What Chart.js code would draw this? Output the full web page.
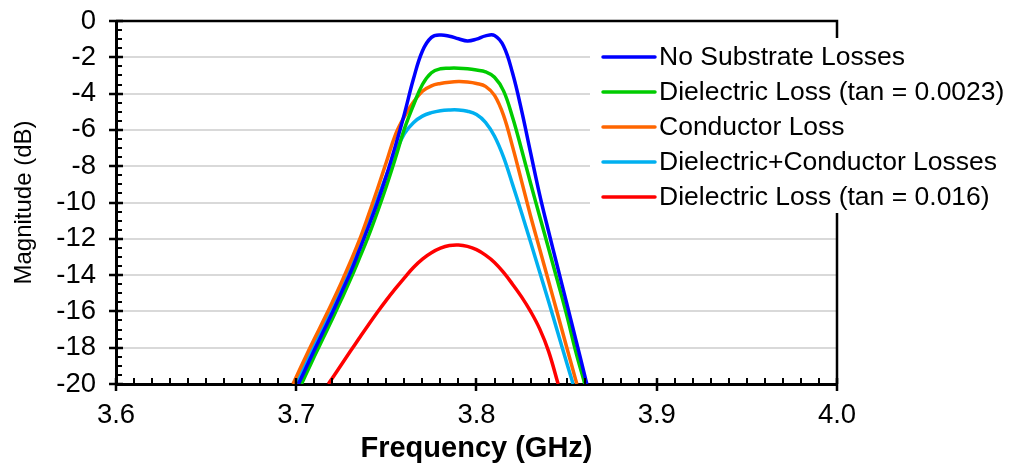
<!DOCTYPE html>
<html>
<head>
<meta charset="utf-8">
<script src="https://cdn.jsdelivr.net/npm/chart.js@4/dist/chart.umd.min.js"></script>
<style>
  html, body { margin: 0; padding: 0; background: #fff; }
  #wrap { width: 1013px; height: 463px; position: relative; }
</style>
</head>
<body>
<div id="wrap"><canvas id="lossChart" width="1013" height="463"></canvas></div>
<script>
// Filter response vs frequency
const seriesLabels = [
    'No Substrate Losses',
    'Dielectric Loss (tan = 0.0023)',
    'Conductor Loss',
    'Dielectric+Conductor Losses',
    'Dielectric Loss (tan = 0.016)'
];
const seriesColors = ['#0000ff', '#00cc00', '#ff6600', '#00b0f0', '#ff0000'];

const freqNoLoss = [3.7012, 3.705, 3.710, 3.715, 3.720, 3.725, 3.730, 3.735, 3.740, 3.745, 3.750, 3.755, 3.760, 3.765, 3.770, 3.775, 3.780, 3.785, 3.790, 3.795, 3.800, 3.805, 3.810, 3.815, 3.820, 3.825, 3.830, 3.835, 3.840, 3.845, 3.850, 3.855, 3.860, 3.8612];
const magNoLoss  = [-20, -19.2, -18.14, -17.11, -16.08, -14.98, -13.88, -12.63, -11.35, -10.01, -8.52, -6.88, -5.12, -3.2, -1.65, -0.9, -0.77, -0.84, -0.98, -1.1, -1.0, -0.82, -0.8, -1.38, -2.87, -4.92, -7.25, -9.55, -11.6, -13.57, -15.53, -17.51, -19.51, -20];

const freqDiel1 = [3.7029, 3.705, 3.710, 3.715, 3.720, 3.725, 3.730, 3.735, 3.740, 3.745, 3.750, 3.755, 3.760, 3.765, 3.770, 3.775, 3.780, 3.785, 3.790, 3.795, 3.800, 3.805, 3.810, 3.815, 3.820, 3.825, 3.830, 3.835, 3.840, 3.845, 3.850, 3.855, 3.8601];
const magDiel1  = [-20, -19.55, -18.49, -17.45, -16.42, -15.35, -14.25, -13.08, -11.87, -10.53, -9.1, -7.56, -5.94, -4.64, -3.5, -2.85, -2.63, -2.6, -2.6, -2.63, -2.7, -2.8, -3.1, -3.85, -5.3, -7.08, -8.94, -10.74, -12.54, -14.34, -16.18, -18.18, -20];

const freqCond = [3.6982, 3.700, 3.705, 3.710, 3.715, 3.720, 3.725, 3.730, 3.735, 3.740, 3.745, 3.750, 3.755, 3.760, 3.765, 3.770, 3.775, 3.780, 3.785, 3.790, 3.795, 3.800, 3.805, 3.810, 3.815, 3.820, 3.825, 3.830, 3.835, 3.840, 3.845, 3.850, 3.855, 3.8557];
const magCond  = [-20, -19.61, -18.55, -17.52, -16.52, -15.49, -14.42, -13.28, -12.08, -10.71, -9.27, -7.77, -6.27, -5.27, -4.47, -3.87, -3.57, -3.44, -3.37, -3.34, -3.36, -3.44, -3.6, -4.1, -5.2, -6.92, -8.82, -10.74, -12.54, -14.34, -16.14, -17.96, -19.76, -20];

const freqBoth = [3.6998, 3.705, 3.710, 3.715, 3.720, 3.725, 3.730, 3.735, 3.740, 3.745, 3.750, 3.755, 3.760, 3.765, 3.770, 3.775, 3.780, 3.785, 3.790, 3.795, 3.800, 3.805, 3.810, 3.815, 3.820, 3.825, 3.830, 3.835, 3.840, 3.845, 3.850, 3.8536];
const magBoth  = [-20, -18.9, -17.85, -16.82, -15.78, -14.68, -13.55, -12.35, -11.09, -9.8, -8.51, -7.28, -6.2, -5.6, -5.24, -5.05, -4.94, -4.9, -4.9, -4.97, -5.15, -5.58, -6.35, -7.5, -9.0, -10.57, -12.18, -13.82, -15.45, -17.13, -18.82, -20];

const freqDiel2 = [3.7178, 3.720, 3.725, 3.730, 3.735, 3.740, 3.745, 3.750, 3.755, 3.760, 3.765, 3.770, 3.775, 3.780, 3.785, 3.790, 3.795, 3.800, 3.805, 3.810, 3.815, 3.820, 3.825, 3.830, 3.835, 3.840, 3.8453];
const magDiel2  = [-20, -19.68, -18.94, -18.2, -17.47, -16.75, -16.05, -15.38, -14.75, -14.15, -13.58, -13.12, -12.77, -12.52, -12.37, -12.34, -12.42, -12.6, -12.9, -13.3, -13.85, -14.5, -15.2, -16.0, -16.95, -18.2, -20];

const xTicks = [3.6, 3.7, 3.8, 3.9, 4.0];
const yTicks = [0, -2, -4, -6, -8, -10, -12, -14, -16, -18, -20];

const FONT = '"Liberation Sans", Arial, sans-serif';

function pairs(xs, ys) {
    return xs.map((x, i) => ({ x: x, y: ys[i] }));
}

const seriesData = [
    pairs(freqNoLoss, magNoLoss),
    pairs(freqDiel1, magDiel1),
    pairs(freqCond, magCond),
    pairs(freqBoth, magBoth),
    pairs(freqDiel2, magDiel2)
];

// frame, inner minor ticks, crossing major ticks
const axisDecor = {
    id: 'axisDecor',
    afterDatasetsDraw(chart) {
        const ctx = chart.ctx;
        const a = chart.chartArea;
        const xs = chart.scales.x;
        const ys = chart.scales.y;
        ctx.save();
        ctx.strokeStyle = '#000';
        ctx.lineWidth = 2;
        ctx.beginPath();
        for (let i = 1; i < 40; i++) {
            if (i % 10 === 0) continue;
            const px = Math.round(xs.getPixelForValue(3.6 + i * 0.01));
            ctx.moveTo(px, a.bottom);
            ctx.lineTo(px, a.bottom - 6);
        }
        for (let i = 1; i < 40; i++) {
            if (i % 4 === 0) continue;
            const py = Math.round(ys.getPixelForValue(-i * 0.5));
            ctx.moveTo(a.left, py);
            ctx.lineTo(a.left + 6, py);
        }
        ctx.stroke();
        ctx.lineWidth = 2.5;
        ctx.beginPath();
        xTicks.forEach(v => {
            const px = Math.round(xs.getPixelForValue(v));
            ctx.moveTo(px, a.bottom - 6);
            ctx.lineTo(px, a.bottom + 7);
        });
        yTicks.forEach(v => {
            const py = Math.round(ys.getPixelForValue(v));
            ctx.moveTo(a.left - 7, py);
            ctx.lineTo(a.left + 7, py);
        });
        ctx.stroke();
        // top and right frame
        ctx.lineWidth = 2.5;
        ctx.beginPath();
        ctx.moveTo(a.left, a.top);
        ctx.lineTo(a.right, a.top);
        ctx.lineTo(a.right, a.bottom);
        ctx.stroke();
        ctx.restore();
    }
};

// legend box sitting over the plot's right side
const boxLegend = {
    id: 'boxLegend',
    afterDraw(chart) {
        const ctx = chart.ctx;
        ctx.save();
        ctx.fillStyle = '#fff';
        ctx.fillRect(590, 38, 423, 175);
        ctx.font = '26.5px ' + FONT;
        ctx.textBaseline = 'middle';
        ctx.fillStyle = '#000';
        chart.data.datasets.forEach((ds, i) => {
            const y = 57 + i * 35;
            ctx.strokeStyle = ds.borderColor;
            ctx.lineWidth = 3.5;
            ctx.lineCap = 'round';
            ctx.beginPath();
            ctx.moveTo(603, y);
            ctx.lineTo(655, y);
            ctx.stroke();
            ctx.fillText(ds.label, 659, y + 1);
        });
        ctx.restore();
    }
};

new Chart(document.getElementById('lossChart'), {
    type: 'line',
    data: {
        datasets: seriesLabels.map((label, i) => ({
            label: label,
            data: seriesData[i],
            borderColor: seriesColors[i],
            backgroundColor: seriesColors[i],
            borderWidth: 3.5,
            pointRadius: 0,
            tension: 0.4,
            fill: false
        }))
    },
    options: {
        responsive: false,
        animation: false,
        layout: { padding: { top: 21, right: 176, left: 0, bottom: 0 } },
        plugins: {
            legend: { display: false },
            tooltip: { enabled: false }
        },
        scales: {
            x: {
                type: 'linear',
                min: 3.6,
                max: 4.0,
                afterFit: s => { s.height = 79; },
                afterBuildTicks: s => { s.ticks = xTicks.map(v => ({ value: v })); },
                ticks: {
                    color: '#000',
                    font: { family: FONT, size: 27.5 },
                    padding: 15,
                    maxRotation: 0,
                    autoSkip: false,
                    callback: v => v.toFixed(1)
                },
                grid: { display: false, drawTicks: false },
                border: { display: true, color: '#000', width: 3 },
                title: {
                    display: true,
                    text: 'Frequency (GHz)',
                    color: '#000',
                    font: { family: FONT, size: 29, weight: 'bold' },
                    padding: { top: 0, bottom: -3 }
                }
            },
            y: {
                type: 'linear',
                min: -20,
                max: 0,
                afterFit: s => {
                    s.width = 116;
                    s.paddingTop = 0;
                    s.paddingBottom = 0;
                },
                afterBuildTicks: s => { s.ticks = yTicks.map(v => ({ value: v })); },
                ticks: {
                    color: '#000',
                    font: { family: FONT, size: 27.5 },
                    padding: 20,
                    autoSkip: false
                },
                grid: { color: '#d9d9d9', lineWidth: 2, drawTicks: false },
                border: { display: true, color: '#000', width: 3 },
                title: {
                    display: true,
                    text: 'Magnitude (dB)',
                    color: '#000',
                    font: { family: FONT, size: 24 },
                    padding: { top: 10, bottom: 0 }
                }
            }
        }
    },
    plugins: [axisDecor, boxLegend]
});
</script>
</body>
</html>
